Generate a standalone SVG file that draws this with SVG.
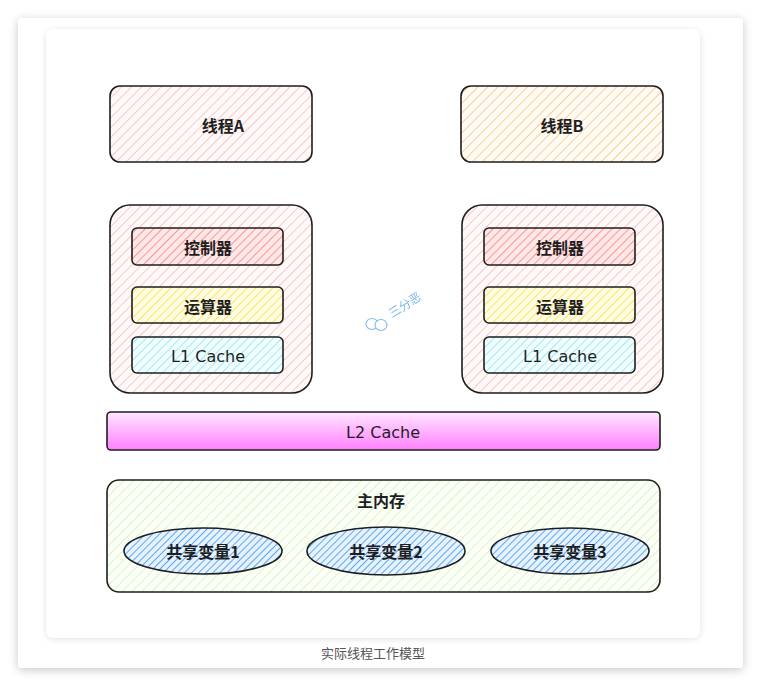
<svg xmlns="http://www.w3.org/2000/svg" width="761" height="687" viewBox="0 0 761 687">
<defs>
<filter id="sh" x="-10%" y="-10%" width="120%" height="120%"><feDropShadow dx="0" dy="2" stdDeviation="5" flood-color="#000" flood-opacity="0.22"/></filter>
<filter id="sh2" x="-10%" y="-10%" width="120%" height="120%"><feDropShadow dx="0" dy="1" stdDeviation="3" flood-color="#000" flood-opacity="0.12"/></filter>
<pattern id="hPink" width="7" height="7" patternUnits="userSpaceOnUse" patternTransform="rotate(45)"><rect width="7" height="7" fill="#fffafa"/><line x1="0" y1="0" x2="0" y2="7" stroke="#ffc4c4" stroke-width="2"/></pattern>
<pattern id="hOrange" width="7" height="7" patternUnits="userSpaceOnUse" patternTransform="rotate(45)"><rect width="7" height="7" fill="#fffbf5"/><line x1="0" y1="0" x2="0" y2="7" stroke="#ffcc99" stroke-width="2"/></pattern>
<pattern id="hRed" width="6" height="6" patternUnits="userSpaceOnUse" patternTransform="rotate(45)"><rect width="6" height="6" fill="#ffe8e8"/><line x1="0" y1="0" x2="0" y2="6" stroke="#ff9494" stroke-width="2"/></pattern>
<pattern id="hYellow" width="6" height="6" patternUnits="userSpaceOnUse" patternTransform="rotate(45)"><rect width="6" height="6" fill="#fffce6"/><line x1="0" y1="0" x2="0" y2="6" stroke="#ffe45c" stroke-width="2"/></pattern>
<pattern id="hCyan" width="6" height="6" patternUnits="userSpaceOnUse" patternTransform="rotate(45)"><rect width="6" height="6" fill="#f2fdfe"/><line x1="0" y1="0" x2="0" y2="6" stroke="#a0eaf2" stroke-width="2"/></pattern>
<pattern id="hGreen" width="7" height="7" patternUnits="userSpaceOnUse" patternTransform="rotate(45)"><rect width="7" height="7" fill="#fcfff8"/><line x1="0" y1="0" x2="0" y2="7" stroke="#daf4c4" stroke-width="2"/></pattern>
<pattern id="hBlue" width="5" height="5" patternUnits="userSpaceOnUse" patternTransform="rotate(45)"><rect width="5" height="5" fill="#e6f2ff"/><line x1="0" y1="0" x2="0" y2="5" stroke="#5ea8ef" stroke-width="2"/></pattern>
<linearGradient id="gL2" x1="0" y1="0" x2="0" y2="1"><stop offset="0" stop-color="#ffe6ff"/><stop offset="1" stop-color="#ff80ff"/></linearGradient>
</defs>
<style>
.box{stroke:#1e1e1e;stroke-width:1.6}
.t{font-family:"Noto Sans CJK SC","Noto Sans",sans-serif;font-size:16px;font-weight:bold;fill:#1e1e1e;text-anchor:middle;dominant-baseline:central}
.e{font-family:"DejaVu Sans","Noto Sans",sans-serif;font-size:16px;fill:#1e1e1e;text-anchor:middle;dominant-baseline:central}
.cap{font-family:"Noto Sans CJK SC",sans-serif;font-size:13px;fill:#555;text-anchor:middle;dominant-baseline:central}
</style>
<rect width="761" height="687" fill="#ffffff"/>
<rect x="18" y="18" width="725" height="650" rx="4" fill="#fff" filter="url(#sh)"/>
<rect x="46" y="29" width="654" height="609" rx="8" fill="#fff" filter="url(#sh2)"/>
<text class="cap" x="373" y="652">实际线程工作模型</text>

<g id="threadA"><rect class="box" x="110" y="86" width="202" height="76" rx="10" fill="url(#hPink)"/><text class="t" x="223" y="125">线程A</text></g>
<g id="threadB"><rect class="box" x="461" y="86" width="202" height="76" rx="10" fill="url(#hOrange)"/><text class="t" x="562" y="125">线程B</text></g>

<g id="cpuA"><rect class="box" x="110" y="205" width="202" height="188" rx="20" fill="url(#hPink)"/></g>
<g id="ctrlA"><rect class="box" x="132" y="228" width="151" height="37" rx="5" fill="url(#hRed)"/><text class="t" x="208" y="247">控制器</text></g>
<g id="aluA"><rect class="box" x="132" y="287" width="151" height="36" rx="5" fill="url(#hYellow)"/><text class="t" x="208" y="306">运算器</text></g>
<g id="l1A"><rect class="box" x="132" y="337" width="151" height="36" rx="5" fill="url(#hCyan)"/><text class="e" x="208" y="356">L1 Cache</text></g>

<g id="cpuB"><rect class="box" x="462" y="205" width="201" height="188" rx="20" fill="url(#hPink)"/></g>
<g id="ctrlB"><rect class="box" x="484" y="228" width="151" height="37" rx="5" fill="url(#hRed)"/><text class="t" x="560" y="247">控制器</text></g>
<g id="aluB"><rect class="box" x="484" y="287" width="151" height="36" rx="5" fill="url(#hYellow)"/><text class="t" x="560" y="306">运算器</text></g>
<g id="l1B"><rect class="box" x="484" y="337" width="151" height="36" rx="5" fill="url(#hCyan)"/><text class="e" x="560" y="356">L1 Cache</text></g>

<g id="l2"><rect class="box" x="107" y="412" width="553" height="38" rx="4" fill="url(#gL2)"/><text class="e" x="383" y="432">L2 Cache</text></g>

<g id="mem"><rect class="box" x="107" y="480" width="553" height="112" rx="12" fill="url(#hGreen)"/><text class="t" x="381" y="500">主内存</text></g>
<g id="var1"><ellipse class="box" cx="203" cy="551" rx="79" ry="23" fill="url(#hBlue)"/><text class="t" x="203" y="551">共享变量1</text></g>
<g id="var2"><ellipse class="box" cx="386" cy="551" rx="79" ry="24" fill="url(#hBlue)"/><text class="t" x="386" y="551">共享变量2</text></g>
<g id="var3"><ellipse class="box" cx="570" cy="551" rx="79" ry="23" fill="url(#hBlue)"/><text class="t" x="570" y="551">共享变量3</text></g>

<g id="watermark" opacity="0.8">
<ellipse cx="372" cy="324" rx="6" ry="5.5" fill="#fff" stroke="#5aa9e6" stroke-width="1.1"/>
<ellipse cx="381" cy="325" rx="6" ry="5.5" fill="#fff" stroke="#5aa9e6" stroke-width="1.1"/>
<text x="392" y="318" transform="rotate(-32 392 318)" font-family="Noto Sans CJK SC,sans-serif" font-size="12" fill="#5aa9e6">三分恶</text>
</g>
<g id="connectors"></g>
</svg>
